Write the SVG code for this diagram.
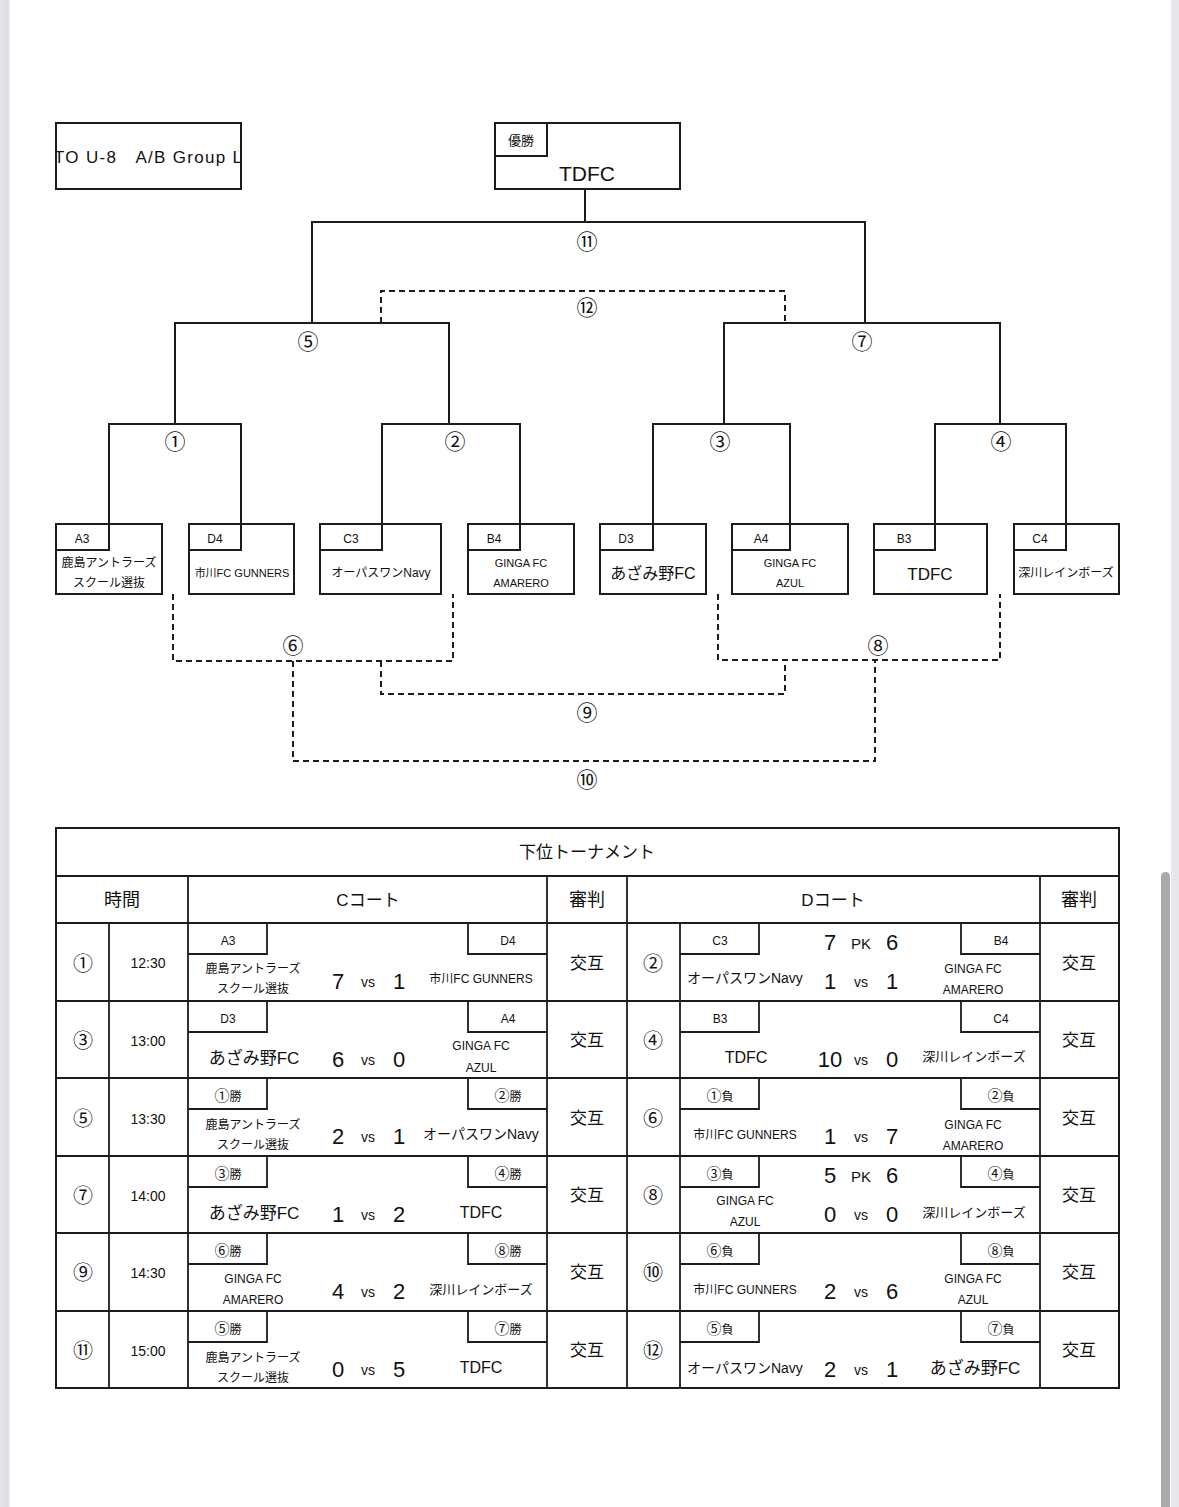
<svg xmlns="http://www.w3.org/2000/svg" width="1179" height="1507" viewBox="0 0 1179 1507">
<defs>
<style>
.ln{fill:none;stroke:#1c1c1c;stroke-width:2}
.tl{fill:none;stroke:#1c1c1c;stroke-width:1.8}
.dl{fill:none;stroke:#1c1c1c;stroke-width:2;stroke-dasharray:6 4}
.bx{fill:#fff;stroke:#1c1c1c;stroke-width:2}
text{font-family:"Liberation Sans","Noto Sans CJK JP",sans-serif;fill:#111;text-anchor:middle}
text.cj,.cj text,tspan.cj{font-family:"Noto Sans CJK JP","Liberation Sans",sans-serif}
.s10{font-size:11px}.s11{font-size:11px}.s12{font-size:12px}.s13{font-size:13px}.s14{font-size:14px}.s15{font-size:15px}.s16{font-size:16px}.s17{font-size:17px}.s18{font-size:18px}.sc{font-size:22px}
.lab{font-size:12px}
.cb{font-size:21px}
.cn{font-size:20px}
.cs{font-size:15px}
</style>
<clipPath id="clipTitle"><rect x="57" y="124" width="183" height="64"/></clipPath>
<linearGradient id="edgeL" x1="0" x2="1" y1="0" y2="0"><stop offset="0" stop-color="#e6e6ea"/><stop offset="0.8" stop-color="#dcdce2"/><stop offset="1" stop-color="#f2f2f4"/></linearGradient>
</defs>
<rect x="0" y="0" width="1179" height="1507" fill="#fff"/>
<rect x="0" y="0" width="10" height="1507" fill="url(#edgeL)"/>
<rect x="1171" y="0" width="8" height="1507" fill="#e8e8ec"/>
<rect x="1161" y="872" width="9" height="640" rx="4.5" fill="#a9a9a9"/>

<g id="connectors">
<path class="ln" d="M585,189 V222"/>
<path class="ln" d="M312,323 V222 H865 V323"/>
<path class="ln" d="M175,424 V323 H449 V424"/>
<path class="ln" d="M724,424 V323 H1000 V424"/>
<path class="ln" d="M109,524 V424 H241 V524"/>
<path class="ln" d="M382,524 V424 H520 V524"/>
<path class="ln" d="M653,524 V424 H790 V524"/>
<path class="ln" d="M935,524 V424 H1066 V524"/>
<path class="dl" d="M381,323 V291 H785 V323"/>
<path class="dl" d="M173,594 V661 H453 V594"/>
<path class="dl" d="M718,594 V660 H1000 V594"/>
<path class="dl" d="M381,661 V694 H785 V660"/>
<path class="dl" d="M293,661 V761 H875 V660"/>
<g class="cb cj">
<text x="587" y="249">⑪</text>
<text x="587" y="315">⑫</text>
<text x="308" y="349">⑤</text>
<text x="862" y="349">⑦</text>
<text x="175" y="449">①</text>
<text x="455" y="449">②</text>
<text x="720" y="449">③</text>
<text x="1001" y="449">④</text>
<text x="293" y="653">⑥</text>
<text x="878" y="653">⑧</text>
<text x="587" y="720">⑨</text>
<text x="587" y="787">⑩</text>
</g>
</g>

<g id="title">
<rect class="bx" x="56" y="123" width="185" height="66"/>
<text x="54" y="163" class="s17" style="text-anchor:start" textLength="188" lengthAdjust="spacing" clip-path="url(#clipTitle)">TO U-8　A/B Group L</text>
</g>

<g id="champion">
<rect class="bx" x="495" y="123" width="185" height="66"/>
<path class="ln" d="M495,156 H547 V123"/>
<text x="521" y="145" class="s13">優勝</text>
<text x="587" y="181" style="font-size:21px">TDFC</text>
</g>

<g id="team-a3">
<rect class="bx" x="56" y="524" width="106" height="70"/>
<path class="ln" d="M56,550 H109 V524"/>
<text x="82" y="543" class="lab">A3</text>
<text x="109" y="567" class="s12">鹿島アントラーズ</text>
<text x="109" y="587" class="s12">スクール選抜</text>
</g>
<g id="team-d4">
<rect class="bx" x="189" y="524" width="105" height="70"/>
<path class="ln" d="M189,550 H241 V524"/>
<text x="215" y="543" class="lab">D4</text>
<text x="242" y="577" class="s11">市川FC GUNNERS</text>
</g>
<g id="team-c3">
<rect class="bx" x="320" y="524" width="121" height="70"/>
<path class="ln" d="M320,550 H382 V524"/>
<text x="351" y="543" class="lab">C3</text>
<text x="381" y="577" class="s12">オーパスワンNavy</text>
</g>
<g id="team-b4">
<rect class="bx" x="468" y="524" width="106" height="70"/>
<path class="ln" d="M468,550 H520 V524"/>
<text x="494" y="543" class="lab">B4</text>
<text x="521" y="567" class="s10">GINGA FC</text>
<text x="521" y="587" class="s10">AMARERO</text>
</g>
<g id="team-d3">
<rect class="bx" x="600" y="524" width="106" height="70"/>
<path class="ln" d="M600,550 H653 V524"/>
<text x="626" y="543" class="lab">D3</text>
<text x="653" y="579" class="s16">あざみ野FC</text>
</g>
<g id="team-a4">
<rect class="bx" x="732" y="524" width="116" height="70"/>
<path class="ln" d="M732,550 H790 V524"/>
<text x="761" y="543" class="lab">A4</text>
<text x="790" y="567" class="s10">GINGA FC</text>
<text x="790" y="587" class="s10">AZUL</text>
</g>
<g id="team-b3">
<rect class="bx" x="874" y="524" width="113" height="70"/>
<path class="ln" d="M874,550 H935 V524"/>
<text x="904" y="543" class="lab">B3</text>
<text x="930" y="580" class="s17">TDFC</text>
</g>
<g id="team-c4">
<rect class="bx" x="1014" y="524" width="105" height="70"/>
<path class="ln" d="M1014,550 H1066 V524"/>
<text x="1040" y="543" class="lab">C4</text>
<text x="1066" y="577" class="s12">深川レインボーズ</text>
</g>

<g id="schedule-table">
<rect class="bx" x="56" y="828" width="1063" height="560" fill="none"/>
<path class="tl" d="M56,876 H1119 M56,923 H1119 M56,1001 H1119 M56,1078 H1119 M56,1156 H1119 M56,1233 H1119 M56,1311 H1119"/>
<path class="tl" d="M188,876 V1388 M547,876 V1388 M627,876 V1388 M1040,876 V1388 M109,923 V1388 M680,923 V1388"/>
<text x="587" y="858" class="s17">下位トーナメント</text>
<text x="122" y="906" class="s18">時間</text>
<text x="368" y="906" class="s17">Cコート</text>
<text x="587" y="906" class="s18">審判</text>
<text x="833" y="906" class="s17">Dコート</text>
<text x="1079" y="906" class="s18">審判</text>
</g>

<g id="row1" transform="translate(0,923)">
<path class="tl" d="M188,31 H267 V0 M547,31 H468 V0 M680,31 H759 V0 M1040,31 H961 V0"/>
<text x="83" y="48" class="cn cj">①</text><text x="148" y="45" class="s14">12:30</text>
<text x="228" y="22" class="lab">A3</text><text x="508" y="22" class="lab">D4</text>
<text x="253" y="50" class="s12">鹿島アントラーズ</text><text x="253" y="70" class="s12">スクール選抜</text>
<text x="338" y="66" class="sc">7</text><text x="368" y="64" class="s14">vs</text><text x="399" y="66" class="sc">1</text>
<text x="481" y="60" class="s12">市川FC GUNNERS</text>
<text x="587" y="46" class="s17">交互</text>
<text x="653" y="48" class="cn cj">②</text>
<text x="720" y="22" class="lab">C3</text><text x="1001" y="22" class="lab">B4</text>
<text x="830" y="27" class="sc">7</text><text x="861" y="26" class="s15">PK</text><text x="892" y="27" class="sc">6</text>
<text x="745" y="60" class="s14">オーパスワンNavy</text>
<text x="830" y="66" class="sc">1</text><text x="861" y="64" class="s14">vs</text><text x="892" y="66" class="sc">1</text>
<text x="973" y="50" class="s12">GINGA FC</text><text x="973" y="71" class="s12">AMARERO</text>
<text x="1079" y="46" class="s17">交互</text>
</g>

<g id="row2" transform="translate(0,1001)">
<path class="tl" d="M188,31 H267 V0 M547,31 H468 V0 M680,31 H759 V0 M1040,31 H961 V0"/>
<text x="83" y="47" class="cn cj">③</text><text x="148" y="45" class="s14">13:00</text>
<text x="228" y="22" class="lab">D3</text><text x="508" y="22" class="lab">A4</text>
<text x="254" y="63" class="s17">あざみ野FC</text>
<text x="338" y="66" class="sc">6</text><text x="368" y="64" class="s14">vs</text><text x="399" y="66" class="sc">0</text>
<text x="481" y="49" class="s12">GINGA FC</text><text x="481" y="71" class="s12">AZUL</text>
<text x="587" y="45" class="s17">交互</text>
<text x="653" y="47" class="cn cj">④</text>
<text x="720" y="22" class="lab">B3</text><text x="1001" y="22" class="lab">C4</text>
<text x="746" y="62" class="s16">TDFC</text>
<text x="830" y="66" class="sc">10</text><text x="861" y="64" class="s14">vs</text><text x="892" y="66" class="sc">0</text>
<text x="974" y="60" class="s13">深川レインボーズ</text>
<text x="1079" y="45" class="s17">交互</text>
</g>

<g id="row3" transform="translate(0,1078)">
<path class="tl" d="M188,31 H267 V0 M547,31 H468 V0 M680,31 H759 V0 M1040,31 H961 V0"/>
<text x="83" y="48" class="cn cj">⑤</text><text x="148" y="46" class="s14">13:30</text>
<text x="228" y="23" class="lab cj"><tspan class="cs">①</tspan>勝</text><text x="508" y="23" class="lab cj"><tspan class="cs">②</tspan>勝</text>
<text x="253" y="51" class="s12">鹿島アントラーズ</text><text x="253" y="71" class="s12">スクール選抜</text>
<text x="338" y="66" class="sc">2</text><text x="368" y="64" class="s14">vs</text><text x="399" y="66" class="sc">1</text>
<text x="481" y="61" class="s14">オーパスワンNavy</text>
<text x="587" y="46" class="s17">交互</text>
<text x="653" y="48" class="cn cj">⑥</text>
<text x="720" y="23" class="lab cj"><tspan class="cs">①</tspan>負</text><text x="1001" y="23" class="lab cj"><tspan class="cs">②</tspan>負</text>
<text x="745" y="61" class="s12">市川FC GUNNERS</text>
<text x="830" y="66" class="sc">1</text><text x="861" y="64" class="s14">vs</text><text x="892" y="66" class="sc">7</text>
<text x="973" y="51" class="s12">GINGA FC</text><text x="973" y="72" class="s12">AMARERO</text>
<text x="1079" y="46" class="s17">交互</text>
</g>

<g id="row4" transform="translate(0,1156)">
<path class="tl" d="M188,31 H267 V0 M547,31 H468 V0 M680,31 H759 V0 M1040,31 H961 V0"/>
<text x="83" y="47" class="cn cj">⑦</text><text x="148" y="45" class="s14">14:00</text>
<text x="228" y="23" class="lab cj"><tspan class="cs">③</tspan>勝</text><text x="508" y="23" class="lab cj"><tspan class="cs">④</tspan>勝</text>
<text x="254" y="63" class="s17">あざみ野FC</text>
<text x="338" y="66" class="sc">1</text><text x="368" y="64" class="s14">vs</text><text x="399" y="66" class="sc">2</text>
<text x="481" y="62" class="s16">TDFC</text>
<text x="587" y="45" class="s17">交互</text>
<text x="653" y="47" class="cn cj">⑧</text>
<text x="720" y="23" class="lab cj"><tspan class="cs">③</tspan>負</text><text x="1001" y="23" class="lab cj"><tspan class="cs">④</tspan>負</text>
<text x="830" y="27" class="sc">5</text><text x="861" y="26" class="s15">PK</text><text x="892" y="27" class="sc">6</text>
<text x="745" y="49" class="s12">GINGA FC</text><text x="745" y="70" class="s12">AZUL</text>
<text x="830" y="66" class="sc">0</text><text x="861" y="64" class="s14">vs</text><text x="892" y="66" class="sc">0</text>
<text x="974" y="61" class="s13">深川レインボーズ</text>
<text x="1079" y="45" class="s17">交互</text>
</g>

<g id="row5" transform="translate(0,1233)">
<path class="tl" d="M188,31 H267 V0 M547,31 H468 V0 M680,31 H759 V0 M1040,31 H961 V0"/>
<text x="83" y="47" class="cn cj">⑨</text><text x="148" y="45" class="s14">14:30</text>
<text x="228" y="23" class="lab cj"><tspan class="cs">⑥</tspan>勝</text><text x="508" y="23" class="lab cj"><tspan class="cs">⑧</tspan>勝</text>
<text x="253" y="50" class="s12">GINGA FC</text><text x="253" y="71" class="s12">AMARERO</text>
<text x="338" y="66" class="sc">4</text><text x="368" y="64" class="s14">vs</text><text x="399" y="66" class="sc">2</text>
<text x="481" y="61" class="s13">深川レインボーズ</text>
<text x="587" y="45" class="s17">交互</text>
<text x="653" y="47" class="cn cj">⑩</text>
<text x="720" y="23" class="lab cj"><tspan class="cs">⑥</tspan>負</text><text x="1001" y="23" class="lab cj"><tspan class="cs">⑧</tspan>負</text>
<text x="745" y="61" class="s12">市川FC GUNNERS</text>
<text x="830" y="66" class="sc">2</text><text x="861" y="64" class="s14">vs</text><text x="892" y="66" class="sc">6</text>
<text x="973" y="50" class="s12">GINGA FC</text><text x="973" y="71" class="s12">AZUL</text>
<text x="1079" y="45" class="s17">交互</text>
</g>

<g id="row6" transform="translate(0,1311)">
<path class="tl" d="M188,31 H267 V0 M547,31 H468 V0 M680,31 H759 V0 M1040,31 H961 V0"/>
<text x="83" y="47" class="cn cj">⑪</text><text x="148" y="45" class="s14">15:00</text>
<text x="228" y="23" class="lab cj"><tspan class="cs">⑤</tspan>勝</text><text x="508" y="23" class="lab cj"><tspan class="cs">⑦</tspan>勝</text>
<text x="253" y="51" class="s12">鹿島アントラーズ</text><text x="253" y="71" class="s12">スクール選抜</text>
<text x="338" y="66" class="sc">0</text><text x="368" y="64" class="s14">vs</text><text x="399" y="66" class="sc">5</text>
<text x="481" y="62" class="s16">TDFC</text>
<text x="587" y="45" class="s17">交互</text>
<text x="653" y="47" class="cn cj">⑫</text>
<text x="720" y="23" class="lab cj"><tspan class="cs">⑤</tspan>負</text><text x="1001" y="23" class="lab cj"><tspan class="cs">⑦</tspan>負</text>
<text x="745" y="62" class="s14">オーパスワンNavy</text>
<text x="830" y="66" class="sc">2</text><text x="861" y="64" class="s14">vs</text><text x="892" y="66" class="sc">1</text>
<text x="975" y="63" class="s17">あざみ野FC</text>
<text x="1079" y="45" class="s17">交互</text>
</g>
</svg>
